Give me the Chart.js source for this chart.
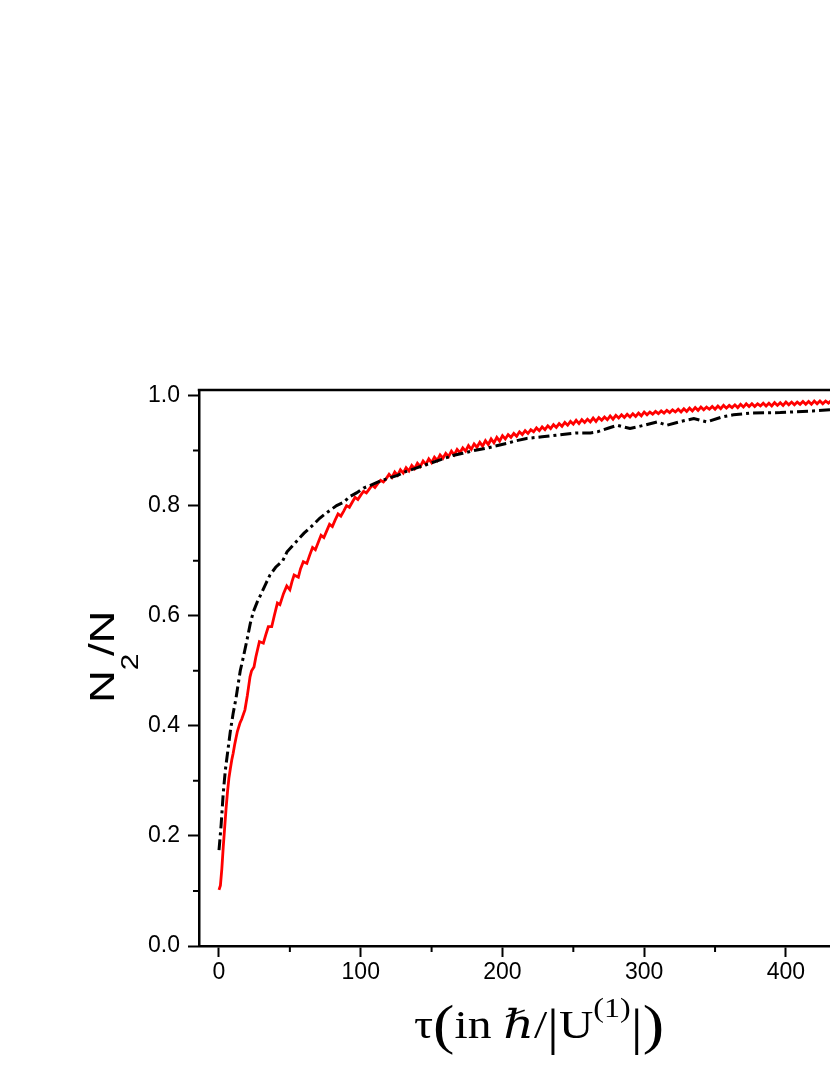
<!DOCTYPE html>
<html>
<head>
<meta charset="utf-8">
<script src="https://cdn.jsdelivr.net/npm/chart.js@4.4.1/dist/chart.umd.min.js"></script>
<style>
  html, body { margin: 0; padding: 0; background: #fff; overflow: hidden; }
  #wrap { width: 830px; height: 1075px; overflow: hidden; position: relative; }
  #chart { position: absolute; left: 0; top: 0; }
</style>
</head>
<body>
<div id="wrap"><canvas id="chart" width="1000" height="1075"></canvas></div>
<script>
// tau values (x) and N2/N values (y)
const redTau = [
  0, 1, 2, 3, 4, 5, 6, 7, 8, 9, 10, 11, 12, 13, 14.8, 16, 18.3, 20, 21.9, 23,
  24.7, 26, 28.5, 31.3, 33, 34.8, 37.2, 39, 41.2, 43, 45.5, 47.8, 50, 51.5, 53, 56, 57.5, 59.5, 62, 64,
  66, 68, 70, 72, 74, 76, 78, 80, 82, 84, 86, 88, 90, 92, 94, 96, 98, 100, 102, 104,
  106, 108, 110, 112, 114, 116, 118,
  120, 122, 124, 126, 128, 130, 132, 134, 136, 138, 140, 142, 144, 146, 148, 150, 152, 154, 156, 158,
  160, 162, 164, 166, 168, 170, 172, 174, 176, 178, 180, 182, 184, 186, 188, 190, 192, 194, 196, 198,
  200, 202, 204, 206, 208, 210, 212, 214, 216, 218, 220, 222, 224, 226, 228, 230, 232, 234, 236, 238,
  240, 242, 244, 246, 248, 250, 252, 254, 256, 258, 260, 262, 264, 266, 268, 270, 272, 274, 276, 278,
  280, 282, 284, 286, 288, 290, 292, 294, 296, 298, 300, 302, 304, 306, 308, 310, 312, 314, 316, 318,
  320, 322, 324, 326, 328, 330, 332, 334, 336, 338, 340, 342, 344, 346, 348, 350, 352, 354, 356, 358,
  360, 362, 364, 366, 368, 370, 372, 374, 376, 378, 380, 382, 384, 386, 388, 390, 392, 394, 396, 398,
  400, 402, 404, 406, 408, 410, 412, 414, 416, 418, 420, 422, 424, 426, 428, 430, 432, 434, 436, 438,
  440
];
const redN2 = [
  0.102, 0.11, 0.14, 0.18, 0.215, 0.25, 0.28, 0.305, 0.322, 0.338, 0.35, 0.365, 0.378, 0.39, 0.405, 0.412, 0.429, 0.455, 0.489, 0.50,
  0.507, 0.525, 0.553, 0.55, 0.565, 0.58, 0.58, 0.60, 0.623, 0.62, 0.64, 0.654, 0.647, 0.662, 0.674, 0.67, 0.685, 0.698, 0.695, 0.71,
  0.724, 0.72, 0.733, 0.746, 0.742, 0.754, 0.766, 0.762, 0.774, 0.785, 0.781, 0.79, 0.80, 0.797, 0.806, 0.815, 0.811, 0.819, 0.826, 0.823,
  0.83, 0.837, 0.833, 0.84, 0.846, 0.843, 0.849,
  0.857, 0.851, 0.861, 0.855, 0.865, 0.859, 0.869, 0.863, 0.873, 0.867, 0.877, 0.871, 0.881, 0.875, 0.885, 0.878, 0.888, 0.882, 0.892, 0.886,
  0.895, 0.889, 0.899, 0.892, 0.902, 0.896, 0.905, 0.899, 0.909, 0.902, 0.912, 0.906, 0.915, 0.908, 0.918, 0.911, 0.921, 0.914, 0.924, 0.917,
  0.927, 0.921, 0.929, 0.924, 0.931, 0.926, 0.934, 0.929, 0.936, 0.931, 0.938, 0.934, 0.941, 0.936, 0.943, 0.938, 0.945, 0.940, 0.947, 0.942,
  0.949, 0.944, 0.951, 0.946, 0.953, 0.948, 0.955, 0.949, 0.956, 0.951, 0.957, 0.952, 0.959, 0.953, 0.960, 0.955, 0.961, 0.956, 0.963, 0.957,
  0.964, 0.959, 0.965, 0.960, 0.966, 0.961, 0.967, 0.962, 0.968, 0.963, 0.970, 0.965, 0.970, 0.966, 0.971, 0.967, 0.972, 0.968, 0.973, 0.969,
  0.974, 0.970, 0.975, 0.970, 0.976, 0.971, 0.977, 0.972, 0.978, 0.973, 0.979, 0.974, 0.979, 0.975, 0.980, 0.975, 0.981, 0.976, 0.982, 0.977,
  0.982, 0.978, 0.983, 0.978, 0.984, 0.979, 0.985, 0.980, 0.985, 0.980, 0.985, 0.981, 0.986, 0.981, 0.986, 0.981, 0.987, 0.982, 0.987, 0.982,
  0.988, 0.983, 0.988, 0.983, 0.988, 0.984, 0.989, 0.984, 0.989, 0.984, 0.990, 0.985, 0.990, 0.985, 0.990, 0.986, 0.991, 0.986, 0.991, 0.986,
  0.991
];
const blackTau = [
  0, 1.5, 3, 4.5, 6.6, 8, 10, 12, 13.6, 15, 17.2, 20, 22, 24.2, 27, 30, 33, 36, 40, 45,
  48, 54, 60, 66, 71, 77, 83, 88, 92, 97, 102, 108, 114, 120, 126, 132, 140, 148, 156, 165,
  172, 180, 190, 203, 210, 217, 228, 238, 252, 262, 267, 275, 281, 290, 300, 309, 316, 326, 335, 344,
  355, 363, 375, 396, 419, 431, 450
];
const blackN2 = [
  0.174, 0.22, 0.278, 0.32, 0.362, 0.39, 0.423, 0.45, 0.477, 0.50, 0.525, 0.559, 0.585, 0.607, 0.625, 0.641, 0.658, 0.674, 0.688, 0.70,
  0.716, 0.733, 0.75, 0.764, 0.777, 0.789, 0.80, 0.806, 0.816, 0.823, 0.832, 0.838, 0.845, 0.85, 0.855, 0.862, 0.869, 0.876, 0.883, 0.891,
  0.895, 0.90, 0.905, 0.913, 0.918, 0.922, 0.925, 0.928, 0.932, 0.932, 0.934, 0.941, 0.946, 0.940, 0.946, 0.952, 0.946, 0.953, 0.958, 0.952,
  0.961, 0.965, 0.968, 0.969, 0.972, 0.974, 0.976
];
const xMajorTicks = [0, 100, 200, 300, 400, 500];
const yMajorTicks = [0.0, 0.2, 0.4, 0.6, 0.8, 1.0];

const sans = '"Liberation Sans", Arial, sans-serif';
const serif = '"Liberation Serif", "DejaVu Serif", serif';

function isMajorX(v) { return xMajorTicks.some(t => Math.abs(t - v) < 1e-6); }
function isMajorY(v) { return yMajorTicks.some(t => Math.abs(t - v) < 1e-6); }
function isTenth(v) { return Math.abs(Math.round(v * 10) - v * 10) < 1e-6; }

// draws frame top, short minor ticks, and the two axis titles
const extras = {
  id: 'extras',
  afterDraw(chart) {
    const ctx = chart.ctx;
    const area = chart.chartArea;
    const xs = chart.scales.x, ys = chart.scales.y;
    ctx.save();
    ctx.strokeStyle = '#000';
    ctx.lineWidth = 2.5;
    ctx.beginPath();
    ctx.moveTo(area.left - 1.25, area.top);
    ctx.lineTo(area.right, area.top);
    ctx.lineTo(area.right, area.bottom);
    ctx.stroke();

    // minor ticks
    ctx.lineWidth = 2;
    ctx.beginPath();
    xs.ticks.forEach(t => {
      if (isMajorX(t.value)) return;
      const px = xs.getPixelForValue(t.value);
      ctx.moveTo(px, area.bottom);
      ctx.lineTo(px, area.bottom + 6);
    });
    ys.ticks.forEach(t => {
      if (isMajorY(t.value)) return;
      const py = ys.getPixelForValue(t.value);
      ctx.moveTo(area.left, py);
      ctx.lineTo(area.left - 6, py);
    });
    ctx.stroke();

    ctx.fillStyle = '#000';
    ctx.textBaseline = 'alphabetic';
    ctx.textAlign = 'left';

    // x title: τ(in ℏ/|U^(1)|)
    const parts = [
      { t: 'τ', size: 40, dy: 0 },
      { t: '(', size: 54, dy: 5 },
      { t: 'in', size: 40, dy: 0 },
      { t: ' ', size: 40, dy: 0 },
      { t: 'ℏ', size: 40, dy: 0, italic: true },
      { t: '/', size: 40, dy: 0 },
      { t: '|', size: 50, dy: 6 },
      { t: 'U', size: 40, dy: 0 },
      { t: '(1)', size: 27, dy: -21 },
      { t: '|', size: 50, dy: 6 },
      { t: ')', size: 54, dy: 5 }
    ];
    let total = 0;
    parts.forEach(p => {
      ctx.font = (p.italic ? 'italic ' : '') + p.size + 'px ' + serif;
      p.w = ctx.measureText(p.t).width;
      total += p.w;
    });
    const sx = 250 / total;
    ctx.save();
    ctx.translate(414, 1038);
    ctx.scale(sx, 1);
    let x = 0;
    parts.forEach(p => {
      ctx.font = (p.italic ? 'italic ' : '') + p.size + 'px ' + serif;
      ctx.fillText(p.t, x, p.dy);
      x += p.w;
    });
    ctx.restore();

    // y title: N_2/N
    ctx.save();
    ctx.translate(114, 703);
    ctx.rotate(-Math.PI / 2);
    ctx.scale(1.3, 1);
    let yx = 0;
    ctx.font = '35px ' + sans;
    ctx.fillText('N', yx, 0);
    yx += ctx.measureText('N').width;
    ctx.font = '23px ' + sans;
    ctx.fillText('2', yx, 24);
    yx += ctx.measureText('2').width - 2;
    ctx.font = '35px ' + sans;
    ctx.fillText('/N', yx, 0);
    ctx.restore();

    ctx.restore();
  }
};

const redData = redTau.map((t, i) => ({ x: t, y: redN2[i] }));
const blackData = blackTau.map((t, i) => ({ x: t, y: blackN2[i] }));

new Chart(document.getElementById('chart'), {
  type: 'line',
  data: {
    datasets: [
      {
        label: 'black',
        data: blackData,
        borderColor: '#000',
        borderWidth: 3,
        borderDash: [11, 4, 3, 4],
        pointRadius: 0,
        tension: 0,
        fill: false
      },
      {
        label: 'red',
        data: redData,
        borderColor: '#ff0000',
        borderWidth: 2.8,
        pointRadius: 0,
        tension: 0,
        fill: false
      }
    ]
  },
  options: {
    responsive: false,
    animation: false,
    devicePixelRatio: 1,
    layout: { padding: { top: 390, right: 44, left: 0, bottom: 0 } },
    plugins: { legend: { display: false }, tooltip: { enabled: false } },
    scales: {
      x: {
        type: 'linear',
        min: -14.11,
        max: 520,
        afterBuildTicks(scale) {
          scale.ticks = scale.ticks.filter(t => Math.abs(t.value % 50) < 1e-6 && t.value >= 0);
        },
        afterFit(scale) { scale.height = 129; },
        border: { display: true, color: '#000', width: 2.5 },
        grid: {
          drawOnChartArea: false,
          drawTicks: true,
          tickLength: 11,
          tickWidth: 2,
          tickColor: ctx => (ctx.tick && isMajorX(ctx.tick.value)) ? '#000' : 'rgba(0,0,0,0)'
        },
        ticks: {
          stepSize: 50,
          includeBounds: false,
          autoSkip: false,
          maxRotation: 0,
          padding: 2,
          color: '#000',
          font: { family: sans, size: 23 },
          callback: v => isMajorX(v) ? String(v) : ''
        }
      },
      y: {
        type: 'linear',
        min: 0,
        max: 1.01,
        afterBuildTicks(scale) {
          scale.ticks = scale.ticks.filter(t => isTenth(t.value));
        },
        afterFit(scale) { scale.width = 199; },
        border: { display: true, color: '#000', width: 2.5 },
        grid: {
          drawOnChartArea: false,
          drawTicks: true,
          tickLength: 11,
          tickWidth: 2,
          tickColor: ctx => (ctx.tick && isMajorY(ctx.tick.value)) ? '#000' : 'rgba(0,0,0,0)'
        },
        ticks: {
          stepSize: 0.1,
          includeBounds: false,
          autoSkip: false,
          padding: 8,
          color: '#000',
          font: { family: sans, size: 23 },
          callback: v => isMajorY(v) ? v.toFixed(1) : ''
        }
      }
    }
  },
  plugins: [extras]
});
</script>
</body>
</html>
